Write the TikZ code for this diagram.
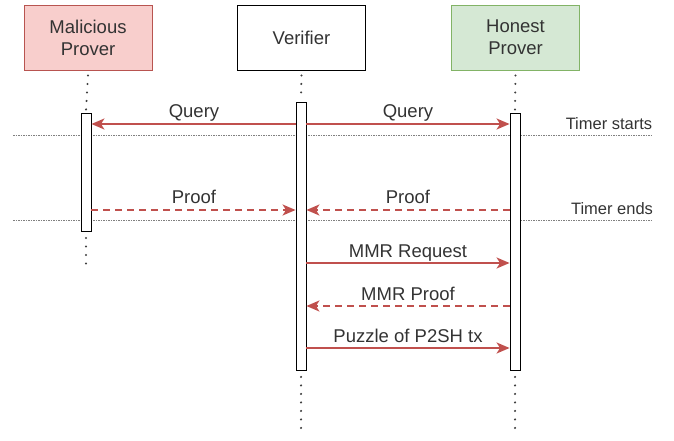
\documentclass[tikz,border=0pt]{standalone}
\usepackage{fontspec}
\setmainfont{Liberation Sans}
\usetikzlibrary{arrows.meta}
\definecolor{redfill}{HTML}{F8CECC}
\definecolor{redline}{HTML}{B85450}
\definecolor{greenfill}{HTML}{D5E8D4}
\definecolor{greenline}{HTML}{82B366}
\definecolor{txt}{HTML}{333333}
\definecolor{arr}{HTML}{C0504D}
\tikzset{
  actor/.style={draw, line width=0.9pt, minimum width=128pt, minimum height=65pt, inner sep=0pt, align=center, font=\fontsize{18.5}{22}\selectfont, text=txt},
  act/.style={draw, line width=0.9pt, fill=white, minimum width=10pt, inner sep=0pt},
  life/.style={line width=2.3pt, dash pattern=on 0pt off 8.5pt, line cap=round, black!75},
  timer/.style={gray, line width=0.5pt, dash pattern=on 1.5pt off 1pt},
  msg/.style={arr, line width=1.8pt, -{Stealth[length=13pt,width=11pt,inset=3.5pt]}},
  reply/.style={msg, dash pattern=on 7pt off 5pt},
  lbl/.style={font=\fontsize{18.5}{20}\selectfont, text=txt, inner sep=0pt},
  tlbl/.style={font=\fontsize{16.5}{18}\selectfont, text=txt, inner sep=0pt},
}
\begin{document}
\begin{tikzpicture}[x=1pt,y=-1pt]
\useasboundingbox (0,0) rectangle (674,441);
% actors
\node[actor, fill=redfill, draw=redline] (mal) at (88,37.5) {Malicious\\Prover};
\node[actor, fill=white] (ver) at (301.5,37.5) {Verifier};
\node[actor, fill=greenfill, draw=greenline] (hon) at (515.5,37.5) {Honest\\Prover};
% timer lines
\coordinate (ts1) at (13,135); \coordinate (ts2) at (653,135);
\coordinate (te1) at (13,220); \coordinate (te2) at (653,220);
\draw[timer] (ts1) -- (ts2);
\draw[timer] (te1) -- (te2);
\node[tlbl, anchor=base] (tstart) at (609,129) {Timer starts};
\node[tlbl, anchor=base] (tend) at (612,214) {Timer ends};
% lifeline ends
\coordinate (mend) at (86,264);
\coordinate (vend) at (301,436);
\coordinate (hend) at (515,436);
% activation boxes
\node[act, minimum height=118pt, anchor=north] (mact) at (86,113) {};
\node[act, minimum height=268pt, anchor=north] (vact) at (301,102) {};
\node[act, minimum height=257pt, anchor=north] (hact) at (515,113) {};
% lifelines
\draw[life] ([yshift=-5pt]mal.south) -- ([yshift=3pt]mact.north);
\draw[life] ([yshift=-5pt]ver.south) -- ([yshift=3pt]vact.north);
\draw[life] ([yshift=-5pt]hon.south) -- ([yshift=3pt]hact.north);
\draw[life] ([yshift=-6pt]mact.south) -- (mend);
\draw[life] ([yshift=-6pt]vact.south) -- (vend);
\draw[life] ([yshift=-6pt]hact.south) -- (hend);
% messages
\draw[msg] (vact.west |- 0,124) -- (mact.east |- 0,124);
\draw[msg] (vact.east |- 0,124) -- (hact.west |- 0,124);
\draw[reply] (mact.east |- 0,210) -- (vact.west |- 0,210);
\draw[reply] (hact.west |- 0,210) -- (vact.east |- 0,210);
\draw[msg] (vact.east |- 0,263) -- (hact.west |- 0,263);
\draw[reply] (hact.west |- 0,306) -- (vact.east |- 0,306);
\draw[msg] (vact.east |- 0,348) -- (hact.west |- 0,348);
% labels
\node[lbl, anchor=base] (q1) at (194,117.5) {Query};
\node[lbl, anchor=base] (q2) at (408,117.5) {Query};
\node[lbl, anchor=base] (p1) at (194,203.5) {Proof};
\node[lbl, anchor=base] (p2) at (408,203.5) {Proof};
\node[lbl, anchor=base] (mr) at (408,257.5) {MMR Request};
\node[lbl, anchor=base] (mp) at (408,300.5) {MMR Proof};
\node[lbl, anchor=base] (pz) at (408,342.5) {Puzzle of P2SH tx};
\end{tikzpicture}
\end{document}
